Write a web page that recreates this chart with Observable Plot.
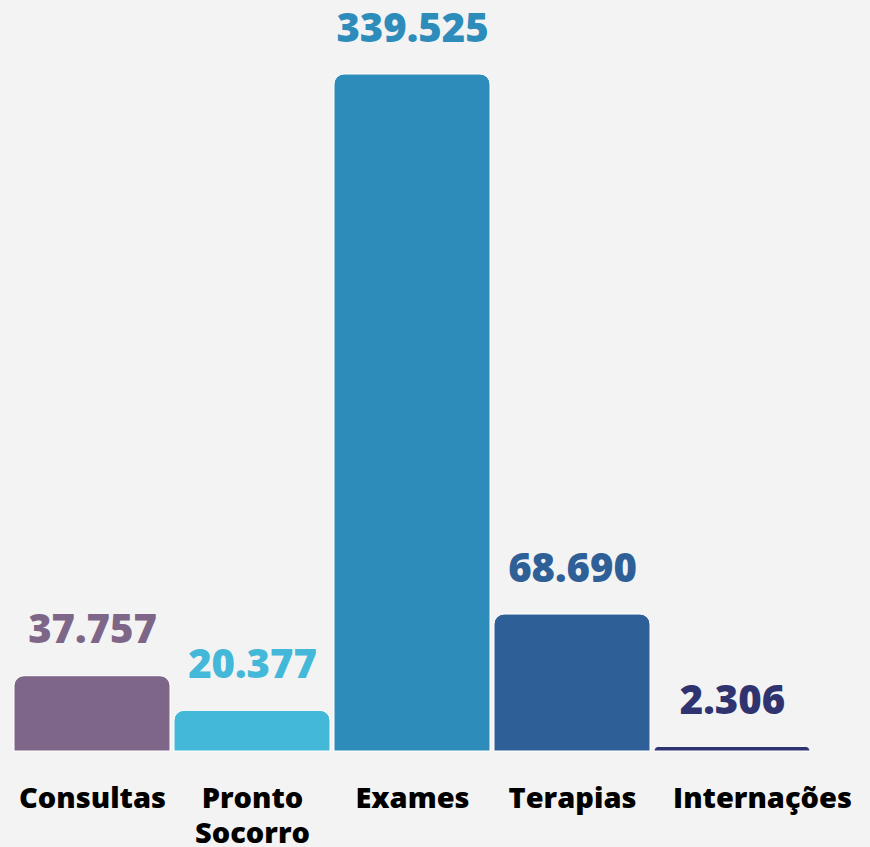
<!DOCTYPE html>
<html>
<head>
<meta charset="utf-8">
<script src="https://cdn.jsdelivr.net/npm/d3@7"></script>
<script src="https://cdn.jsdelivr.net/npm/@observablehq/plot@0.6"></script>
<style>
  html, body { margin: 0; padding: 0; background: #f3f3f3; }
  #chart svg { display: block; }
</style>
</head>
<body>
<div id="chart"></div>
<script>
const categories = ["Consultas", "Pronto\nSocorro", "Exames", "Terapias", "Internações"];
const values = [37757, 20377, 339525, 68690, 2306];
const valueLabels = ["37.757", "20.377", "339.525", "68.690", "2.306"];
const colors = ["#7e6689", "#43b8d8", "#2d8cba", "#2f5f97", "#2f3470"];

const data = categories.map((c, i) => ({category: c, value: values[i], label: valueLabels[i], color: colors[i]}));

const fontFamily = "'Open Sans', 'Noto Sans', sans-serif";
const axisStyle = {tickSize: 0, tickPadding: 31, fontSize: 29, fontWeight: 800, lineHeight: 1.22, fill: "black", label: null};

const chart = Plot.plot({
  width: 870,
  height: 847,
  marginLeft: 14,
  marginRight: 60,
  marginTop: 74,
  marginBottom: 96,
  style: {background: "#f3f3f3", fontFamily},
  x: {domain: categories, paddingInner: 0.025, paddingOuter: 0, label: null},
  y: {domain: [0, 339525], axis: null},
  color: {type: "identity"},
  marks: [
    Plot.barY(data, {x: "category", y: "value", fill: "color", rx1y1: 10, rx2y1: 10, stroke: "white", strokeWidth: 1}),
    Plot.text(data, {x: "category", y: "value", text: "label", fill: "color", dy: -33, fontSize: 40, fontWeight: 800, lineAnchor: "bottom", textAnchor: "middle"}),
    Plot.axisX({...axisStyle, ticks: categories.slice(0, 4)}),
    Plot.axisX({...axisStyle, ticks: categories.slice(4), dx: 30})
  ]
});
document.getElementById("chart").appendChild(chart);
</script>
</body>
</html>
